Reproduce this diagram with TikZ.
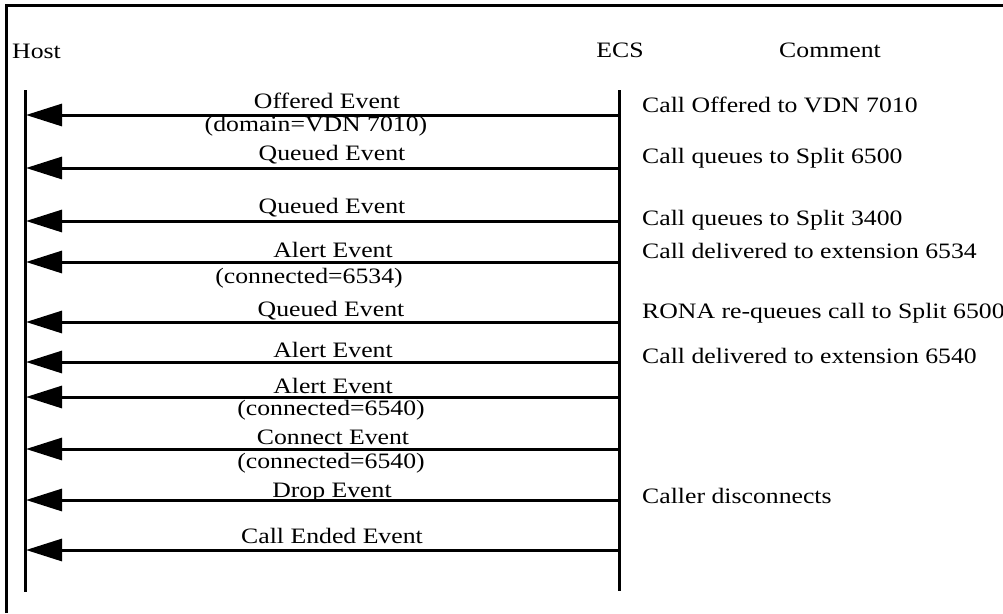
\documentclass[tikz,border=0pt]{standalone}
\usepackage{fontspec}
\setmainfont{Liberation Serif}[FakeStretch=1.17]
\usetikzlibrary{arrows.meta}
\tikzset{every node/.style={font=\fontsize{22}{26}\selectfont,inner sep=0pt},
 lifeline/.style={line width=3pt},msg/.style={line width=3pt,-{Triangle[length=36pt,width=22pt]}},
 evt/.style={anchor=base},note/.style={anchor=base west}}

\begin{document}
\begin{tikzpicture}[x=1pt,y=-1pt]
\useasboundingbox (0,0) rectangle (1003,613);
\draw[lifeline] (6.5,613)--(6.5,5.5)--(1003,5.5);
\node[note] (host) at (12,58){Host};\node[evt] (ecs) at (620,57){ECS};\node[evt] (comment) at (830,57){Comment};
\coordinate (hTop) at (25,90);\coordinate (hBot) at (25,592);\coordinate (eTop) at (619,90);\coordinate (eBot) at (619,591);
\draw[lifeline] (hTop)--(hBot);\draw[lifeline] (eTop)--(eBot);
% messages ECS -> Host
\foreach \y [count=\i] in {115,168,221,262,322,362,397,449,500,550}{\coordinate (e\i) at (619,\y);\coordinate (h\i) at (26,\y);\draw[msg] (e\i)--(h\i);}
\foreach \x/\y/\t [count=\i] in {327/108/Offered Event,316/131/(domain=VDN 7010),332/160/Queued Event,332/213/Queued Event,333/257/Alert Event,309/283/(connected=6534),331/316/Queued Event,333/357/Alert Event,333/393/Alert Event,331/415/(connected=6540),333/444/Connect Event,331/468/(connected=6540),332/497/Drop Event,332/543/Call Ended Event}
 \node[evt] (lab\i) at (\x,\y){\t};
\foreach \y/\t [count=\i] in {112/Call Offered to VDN 7010,163/Call queues to Split 6500,225/Call queues to Split 3400,258/Call delivered to extension 6534,318/RONA re-queues call to Split 6500,363/Call delivered to extension 6540,503/Caller disconnects}
 \node[note] (cmt\i) at (642,\y){\t};
\end{tikzpicture}
\end{document}
